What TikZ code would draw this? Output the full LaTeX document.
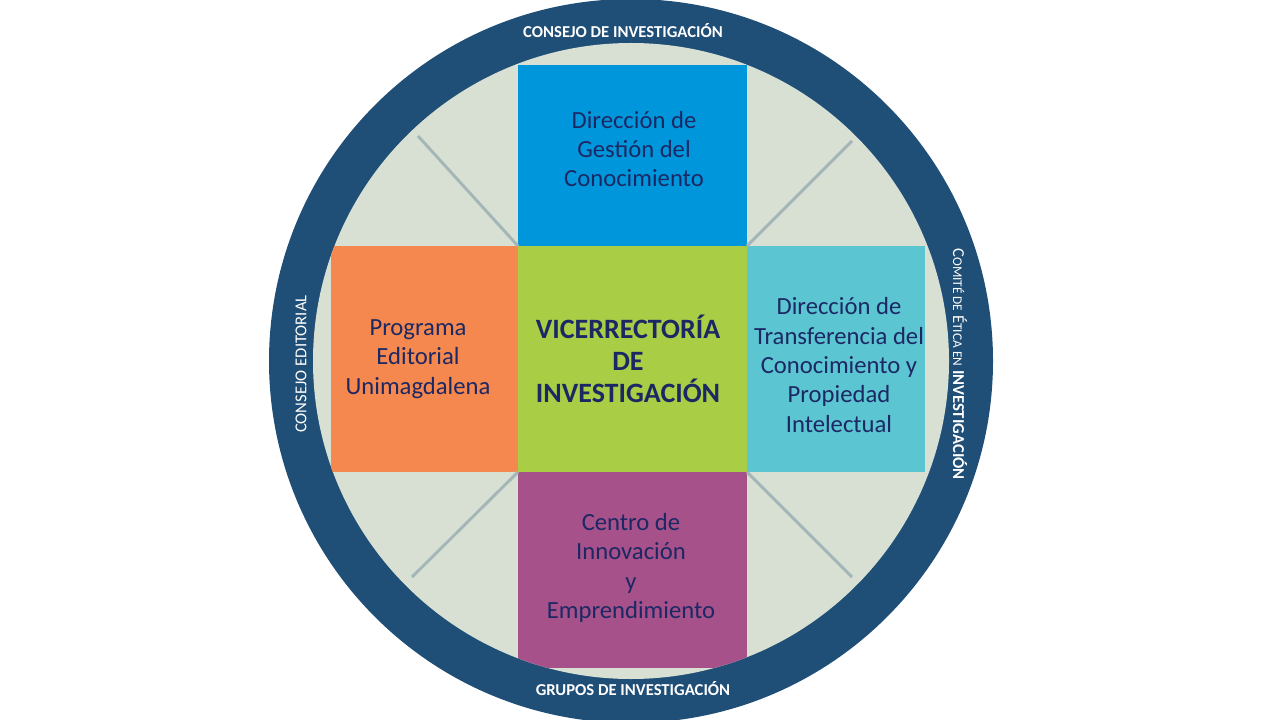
\documentclass[tikz,border=0pt]{standalone}
\usepackage{fontspec}
\setmainfont{Carlito}
\definecolor{ring}{RGB}{31,78,118}
\definecolor{pale}{RGB}{215,224,210}
\definecolor{cblue}{RGB}{0,150,219}
\definecolor{corange}{RGB}{245,136,78}
\definecolor{ccyan}{RGB}{91,197,209}
\definecolor{cpurple}{RGB}{166,81,138}
\definecolor{cgreen}{RGB}{169,205,68}
\definecolor{ctext}{RGB}{28,40,100}
\definecolor{cline}{RGB}{165,182,185}
\tikzset{
  armtext/.style={text=ctext,font=\fontsize{18.5}{22}\selectfont,align=center},
  ringtext/.style={text=white,font=\bfseries\fontsize{12.5}{14}\selectfont},
  diag/.style={cline,line width=2.2pt}
}
\begin{document}
\begin{tikzpicture}[x=0.75pt,y=-0.75pt]
\useasboundingbox (0,0) rectangle (1280,720);
\fill[ring] (631,361) circle (362);
\fill[pale] (631,361) circle (318);
\begin{scope}
\clip (631,361) circle (318);
\fill[cblue] (518,65) rectangle (747,246);
\fill[corange] (331,246) rectangle (518,472);
\fill[ccyan] (747,246) rectangle (925,472);
\fill[cpurple] (518,472) rectangle (747,668);
\coordinate (c1) at (518,246);
\coordinate (c2) at (747,246);
\coordinate (c3) at (518,472);
\coordinate (c4) at (747,472);
\draw[diag] (c1) -- (418,136);
\draw[diag] (c2) -- (852,141);
\draw[diag] (c3) -- (412,577);
\draw[diag] (c4) -- (852,577);
\end{scope}
\node[fill=cgreen,minimum width=172pt,minimum height=169.5pt,inner sep=0] (center) at (632.5,359) {};
\node[text=ctext,font=\bfseries\fontsize{21}{24}\selectfont,align=center] (vt) at (628,359) {VICERRECTORÍA\\DE\\INVESTIGACIÓN};
\node[armtext] (top) at (634,149) {Dirección de\\Gestión del\\Conocimiento};
\node[armtext] (left) at (418,359) {Programa\\Editorial\\Unimagdalena};
\node[armtext] (right) at (839,365) {Dirección de\\Transferencia del\\Conocimiento y\\Propiedad\\Intelectual};
\node[armtext] (bottom) at (631,568) {Centro de\\Innovación\\y\\Emprendimiento};
\node[ringtext] (rt) at (623,31) {CONSEJO DE INVESTIGACIÓN};
\node[ringtext] (rb) at (633,689) {GRUPOS DE INVESTIGACIÓN};
\node[ringtext,font=\fontsize{12.5}{14}\selectfont,rotate=90] (rl) at (301,364) {CONSEJO EDITORIAL};
\node[text=white,rotate=-90,font=\fontsize{12.5}{14}\selectfont] (rr) at (960,364) {C{\fontsize{10}{12}\selectfont OMITÉ DE} É{\fontsize{10}{12}\selectfont TICA EN} \textbf{INVESTIGACIÓN}};
\end{tikzpicture}
\end{document}
